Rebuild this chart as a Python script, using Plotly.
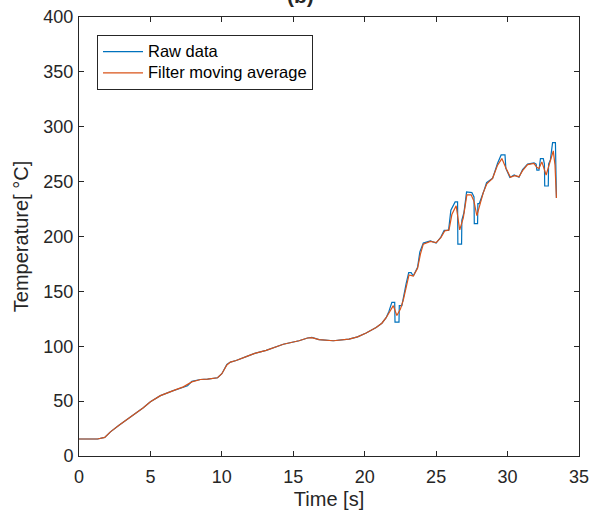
import plotly.graph_objects as go

# ---------------- data ----------------
raw_t = [0, 1.3, 1.8, 2.2, 2.8, 3.4, 4.0, 4.5, 5.0, 5.7, 6.6, 7.3, 7.6, 7.9, 8.5, 9.0, 9.7, 10.0,
         10.35, 10.6, 11.0, 11.75, 12.3, 13.1, 14.3, 15.4, 16.0, 16.3, 16.8, 17.8, 18.9, 19.5, 20.1,
         20.8, 21.2, 21.5, 21.7, 21.9, 22.1, 22.12, 22.4, 22.42, 22.6, 22.9, 23.08, 23.25, 23.4, 23.7,
         23.86, 24.1, 24.6, 25.0, 25.33, 25.56, 25.87, 26.03, 26.33, 26.5, 26.52, 26.78, 26.8, 26.95,
         27.13, 27.5, 27.65, 27.67, 27.9, 27.92, 28.02, 28.32, 28.53, 28.95, 29.3, 29.55, 29.82, 29.88,
         30.16, 30.46, 30.8, 31.05, 31.4, 31.85, 32.0, 32.05, 32.2, 32.3, 32.5, 32.58, 32.6, 32.85,
         32.87, 33.0, 33.12, 33.15, 33.35, 33.37, 33.42]
raw_temp = [15.5, 15.5, 17, 22, 28, 33.5, 39, 44, 49.5, 55, 59.6, 63, 64, 68, 69.7, 70, 71.3, 75,
            83.5, 85.6, 87, 90.8, 93.5, 96.3, 101.8, 105, 107.5, 108, 106, 105, 106.5, 108.5, 112,
            117, 121, 126, 132, 140, 140, 122, 122, 137, 137, 157, 167, 167, 164, 172,
            186, 194, 196, 194, 199.5, 205.6, 205.6, 224, 231.5, 231.5, 193, 193, 215, 222,
            240.7, 240, 236, 211.7, 211.7, 230, 230, 240.7, 249, 253, 266.7, 274.3, 274.3, 262,
            253.8, 256, 254, 261, 266, 267, 266, 260.5, 260.5, 271, 271, 266, 246, 246,
            266, 270, 284, 285.5, 285.5, 265, 235]

filt_t = [0, 1.3, 1.8, 2.2, 2.8, 3.4, 4.0, 4.5, 5.0, 5.7, 6.6, 7.3, 7.9, 8.5, 9.0, 9.7, 10.0, 10.35,
          10.6, 11.0, 11.75, 12.3, 13.1, 14.3, 15.4, 16.0, 16.3, 16.8, 17.8, 18.9, 19.5, 20.1, 20.8,
          21.2, 21.5, 21.75, 22.0, 22.25, 22.5, 22.7, 22.9, 23.1, 23.4, 23.7, 23.9, 24.1, 24.6, 25.0,
          25.33, 25.6, 25.9, 26.1, 26.4, 26.65, 26.9, 27.15, 27.45, 27.65, 27.85, 28.05, 28.3, 28.55,
          28.95, 29.3, 29.6, 29.9, 30.2, 30.5, 30.8, 31.05, 31.4, 31.85, 32.05, 32.2, 32.4, 32.7,
          32.95, 33.2, 33.32, 33.42]
filt_temp = [15.5, 15.5, 17, 22, 28, 33.5, 39, 44, 49.5, 55, 59.6, 63, 67.5, 69.7, 70, 71.3, 75, 83,
             85.6, 87, 90.8, 93.5, 96.3, 101.8, 105, 107.5, 107.8, 106, 105, 106.5, 108.5, 112, 117,
             121, 126, 131, 137, 128, 134, 142, 155, 165, 164, 171, 184, 193, 195.5, 194.5,
             199, 205, 206, 220, 228, 206, 217, 238, 238, 232, 219, 228, 240, 248,
             253, 265, 271, 262, 254, 255.5, 254.5, 260, 265.5, 266.5, 263, 262, 268, 256,
             266, 278, 265, 235]

x_ticks = [0, 5, 10, 15, 20, 25, 30, 35]
y_ticks = [0, 50, 100, 150, 200, 250, 300, 350, 400]
series_names = ["Raw data", "Filter moving average"]
title_text = "(b)"
x_title = "Time [s]"
y_title = "Temperature[ \u00b0C]"

# ---------------- styling ----------------
FONT = "Liberation Sans, Arial, Helvetica, sans-serif"
AXC = "#262626"


def legend_label(s):
    return '<span style="font-size:16.5px">' + s + "</span>"


fig = go.Figure()
fig.add_trace(go.Scatter(x=raw_t, y=raw_temp, mode="lines", name=legend_label(series_names[0]),
                         line=dict(color="#0072BD", width=1.2)))
fig.add_trace(go.Scatter(x=filt_t, y=filt_temp, mode="lines", name=legend_label(series_names[1]),
                         line=dict(color="#D95319", width=1.2)))

axis_common = dict(showline=True, linecolor=AXC, linewidth=1, mirror="ticks",
                   ticks="inside", ticklen=5, tickcolor=AXC, tickwidth=1,
                   showgrid=False, zeroline=False, automargin=False,
                   tickfont=dict(family=FONT, size=18, color=AXC))

fig.update_xaxes(range=[0, 35], tickvals=x_ticks, ticktext=[str(v) for v in x_ticks],
                 ticklabelstandoff=4,
                 title=dict(text=x_title, font=dict(family=FONT, size=20, color=AXC), standoff=6),
                 **axis_common)
fig.update_yaxes(range=[0, 400], tickvals=y_ticks, ticktext=[str(v) for v in y_ticks],
                 ticklabelstandoff=1,
                 title=dict(text=y_title, font=dict(family=FONT, size=20, color=AXC), standoff=9),
                 **axis_common)

fig.add_annotation(text="<b>" + title_text + "</b>", xref="paper", yref="paper",
                   x=0.442, y=1.048, xanchor="center", yanchor="middle", showarrow=False,
                   font=dict(family=FONT, size=21, color=AXC))

fig.update_layout(
    width=599, height=518,
    margin=dict(l=79, r=20, t=17, b=62),
    paper_bgcolor="white", plot_bgcolor="white",
    showlegend=True,
    legend=dict(x=0.036, y=0.959, xanchor="left", yanchor="top",
                bgcolor="white", bordercolor=AXC, borderwidth=1,
                font=dict(family=FONT, size=14, color="black"),
                tracegroupgap=0, itemwidth=40),
)

fig.write_html("out.html")
